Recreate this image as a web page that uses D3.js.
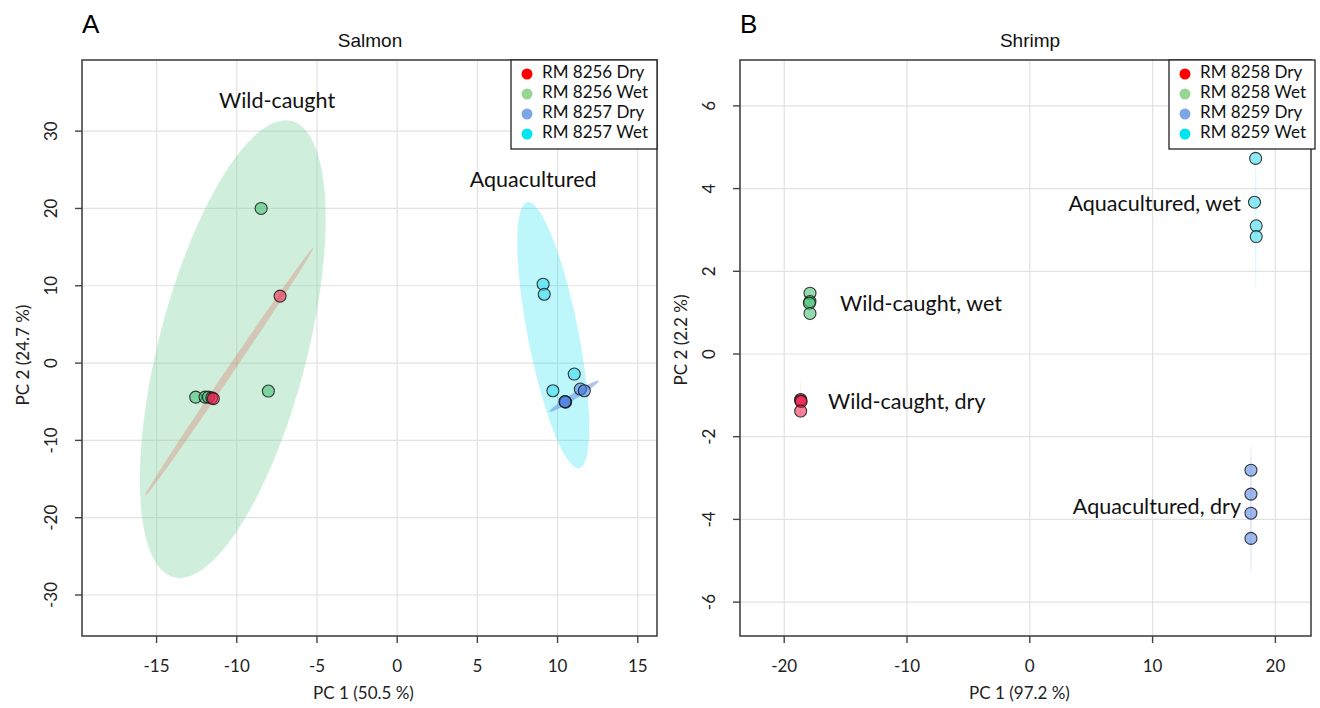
<!DOCTYPE html>
<html>
<head>
<meta charset="utf-8">
<script src="https://cdn.jsdelivr.net/npm/d3@7.9.0/dist/d3.min.js"></script>
<style>
  body { margin: 0; background: #fff; }
  svg { display: block; font-family: Lato, "Open Sans", sans-serif; }
</style>
</head>
<body>
<svg id="chart" width="1320" height="708"></svg>
<script>
// ---- data ----
const salmonGroups = ["RM 8256 Dry", "RM 8256 Wet", "RM 8257 Dry", "RM 8257 Wet"];
const shrimpGroups = ["RM 8258 Dry", "RM 8258 Wet", "RM 8259 Dry", "RM 8259 Wet"];

const salmonXTicks = [-15, -10, -5, 0, 5, 10, 15];
const salmonYTicks = [-30, -20, -10, 0, 10, 20, 30];
const shrimpXTicks = [-20, -10, 0, 10, 20];
const shrimpYTicks = [-6, -4, -2, 0, 2, 4, 6];

// g = group index, pc1 / pc2 scores
const salmonPoints = [
  { g: 1, pc1: -8.48, pc2: 20.0 }, { g: 1, pc1: -12.56, pc2: -4.4 }, { g: 1, pc1: -11.98, pc2: -4.4 },
  { g: 1, pc1: -11.77, pc2: -4.4 }, { g: 1, pc1: -8.03, pc2: -3.62 },
  { g: 3, pc1: 9.1, pc2: 10.2 }, { g: 3, pc1: 9.17, pc2: 8.9 }, { g: 3, pc1: 11.04, pc2: -1.42 },
  { g: 3, pc1: 9.71, pc2: -3.58 },
  { g: 0, pc1: -7.3, pc2: 8.66 }, { g: 0, pc1: -11.56, pc2: -4.5 }, { g: 0, pc1: -11.46, pc2: -4.6 },
  { g: 2, pc1: 10.48, pc2: -5.0 }, { g: 2, pc1: 10.5, pc2: -5.05 }, { g: 2, pc1: 10.46, pc2: -4.98 },
  { g: 2, pc1: 11.42, pc2: -3.36 }, { g: 2, pc1: 11.67, pc2: -3.58 }
];
const shrimpPoints = [
  { g: 1, pc1: -17.9, pc2: 1.47 }, { g: 1, pc1: -17.9, pc2: 1.27 }, { g: 1, pc1: -17.95, pc2: 1.23 },
  { g: 1, pc1: -17.9, pc2: 0.98 },
  { g: 3, pc1: 18.39, pc2: 4.73 }, { g: 3, pc1: 18.3, pc2: 3.67 }, { g: 3, pc1: 18.44, pc2: 3.10 },
  { g: 3, pc1: 18.44, pc2: 2.84 },
  { g: 0, pc1: -18.66, pc2: -1.10 }, { g: 0, pc1: -18.66, pc2: -1.13 }, { g: 0, pc1: -18.62, pc2: -1.15 },
  { g: 0, pc1: -18.66, pc2: -1.38 },
  { g: 2, pc1: 18.01, pc2: -2.81 }, { g: 2, pc1: 18.01, pc2: -3.39 }, { g: 2, pc1: 18.01, pc2: -3.85 },
  { g: 2, pc1: 18.01, pc2: -4.46 }
];

// confidence ellipses: centre and two half-axis vectors, in data units
const salmonEllipses = [
  { g: 1, cx: -10.25, cy: 1.8, ax: 3.68, ay: 29.5, bx: 4.47, by: -2.41 },
  { g: 3, cx: 9.73, cy: 3.62, ax: -1.62, ay: 17.2, bx: 1.55, by: 0.63 },
  { g: 0, cx: -10.48, cy: -1.16, ax: 5.24, ay: 16.03, bx: 0.18, by: -0.25 },
  { g: 2, cx: 11.03, cy: -4.29, ax: 1.53, ay: 2.0, bx: 0.1, by: -0.33 }
];
const shrimpEllipses = [
  { g: 1, cx: -17.92, cy: 1.23, ax: 0, ay: 0.5, bx: 0.05, by: 0 },
  { g: 3, cx: 18.4, cy: 3.24, ax: 0, ay: 1.69, bx: 0.06, by: 0 },
  { g: 0, cx: -18.66, cy: -1.15, ax: 0, ay: 0.5, bx: 0.04, by: 0 },
  { g: 2, cx: 18.01, cy: -3.77, ax: 0, ay: 1.57, bx: 0.05, by: 0 }
];

const salmonLabels = [
  { text: "Wild-caught", pc1: -7.49, pc2: 33.75, anchor: "middle" },
  { text: "Aquacultured", pc1: 8.48, pc2: 23.5, anchor: "middle" }
];
const shrimpLabels = [
  { text: "Aquacultured, wet", pc1: 17.2, pc2: 3.58, anchor: "end" },
  { text: "Wild-caught, wet", pc1: -15.45, pc2: 1.16, anchor: "start" },
  { text: "Wild-caught, dry", pc1: -16.43, pc2: -1.21, anchor: "start" },
  { text: "Aquacultured, dry", pc1: 17.2, pc2: -3.73, anchor: "end" }
];

// ---- styles ----
const legendColors = ["#ff0000", "#99d594", "#7ea6e6", "#00e5f0"];
const pointColors = ["#ee1c4a", "#3cbf6e", "#4f7fe0", "#2fd8ec"];
const ellipseColors = ["#e83a2a", "#82d2a0", "#5f86e6", "#00e0f0"];
const ellipseOpacity = [0.22, 0.38, 0.5, 0.26];

const svg = d3.select("#chart");

function drawPanel(cfg) {
  const x = d3.scaleLinear().domain(cfg.xDomain).range([cfg.left, cfg.right]);
  const y = d3.scaleLinear().domain(cfg.yDomain).range([cfg.bottom, cfg.top]);
  const g = svg.append("g");

  // grid
  g.selectAll(".gx").data(cfg.xTicks).join("line")
    .attr("x1", d => x(d)).attr("x2", d => x(d))
    .attr("y1", cfg.top).attr("y2", cfg.bottom)
    .attr("stroke", "#e2e2e2").attr("stroke-width", 1.2);
  g.selectAll(".gy").data(cfg.yTicks).join("line")
    .attr("x1", cfg.left).attr("x2", cfg.right)
    .attr("y1", d => y(d)).attr("y2", d => y(d))
    .attr("stroke", "#e2e2e2").attr("stroke-width", 1.2);

  // ellipses (wet under dry)
  const ell = d3.line().x(d => x(d[0])).y(d => y(d[1])).curve(d3.curveLinearClosed);
  const order = [1, 3, 0, 2];
  order.forEach(gi => {
    cfg.ellipses.filter(e => e.g === gi).forEach(e => {
      const pts = d3.range(0, 360, 3).map(a => {
        const t = a * Math.PI / 180;
        return [e.cx + e.ax * Math.cos(t) + e.bx * Math.sin(t),
                e.cy + e.ay * Math.cos(t) + e.by * Math.sin(t)];
      });
      g.append("path").attr("d", ell(pts))
        .attr("fill", ellipseColors[gi]).attr("fill-opacity", ellipseOpacity[gi] * cfg.ellFade);
    });
  });

  // points
  order.forEach(gi => {
    g.selectAll(null).data(cfg.points.filter(p => p.g === gi)).join("circle")
      .attr("cx", d => x(d.pc1)).attr("cy", d => y(d.pc2)).attr("r", 6)
      .attr("fill", pointColors[gi]).attr("fill-opacity", 0.55)
      .attr("stroke", "#1a1a1a").attr("stroke-opacity", 0.85).attr("stroke-width", 1.1);
  });

  // frame
  g.append("rect").attr("x", cfg.left).attr("y", cfg.top)
    .attr("width", cfg.right - cfg.left).attr("height", cfg.bottom - cfg.top)
    .attr("fill", "none").attr("stroke", "#444").attr("stroke-width", 1.6);

  // ticks
  g.selectAll(".tx").data(cfg.xTicks).join("line")
    .attr("x1", d => x(d)).attr("x2", d => x(d))
    .attr("y1", cfg.bottom).attr("y2", cfg.bottom + 7)
    .attr("stroke", "#444").attr("stroke-width", 1.4);
  g.selectAll(".ty").data(cfg.yTicks).join("line")
    .attr("x1", cfg.left - 7).attr("x2", cfg.left)
    .attr("y1", d => y(d)).attr("y2", d => y(d))
    .attr("stroke", "#444").attr("stroke-width", 1.4);

  g.selectAll(".lx").data(cfg.xTicks).join("text")
    .attr("x", d => x(d)).attr("y", cfg.bottom + 36)
    .attr("text-anchor", "middle").attr("font-size", 17).attr("fill", "#222")
    .text(d => String(d));
  g.selectAll(".ly").data(cfg.yTicks).join("text")
    .attr("transform", d => `translate(${cfg.left - 25},${y(d)}) rotate(-90)`)
    .attr("text-anchor", "middle").attr("font-size", 17).attr("fill", "#222")
    .text(d => String(d));

  // axis titles
  g.append("text").attr("x", (cfg.left + cfg.right) / 2 - 6).attr("y", cfg.bottom + 63)
    .attr("text-anchor", "middle").attr("font-size", 17).attr("fill", "#222").text(cfg.xTitle);
  g.append("text")
    .attr("transform", `translate(${cfg.left - 53},${(cfg.top + cfg.bottom) / 2 + cfg.yTitleShift}) rotate(-90)`)
    .attr("text-anchor", "middle").attr("font-size", 17).attr("fill", "#222").text(cfg.yTitle);

  // title and panel letter
  g.append("text").attr("x", cfg.titleX).attr("y", 47)
    .attr("text-anchor", "middle").attr("font-family", "Liberation Sans, Arial, sans-serif")
    .attr("font-size", 19).attr("fill", "#111").text(cfg.title);
  g.append("text").attr("x", cfg.left).attr("y", 33)
    .attr("font-family", "Liberation Sans, Arial, sans-serif")
    .attr("font-size", 26).attr("fill", "#000").text(cfg.letter);

  // annotations
  g.selectAll(".ann").data(cfg.labels).join("text")
    .attr("x", d => x(d.pc1)).attr("y", d => y(d.pc2))
    .attr("text-anchor", d => d.anchor).attr("dominant-baseline", "middle")
    .attr("font-size", 21.5).attr("fill", "#111").text(d => d.text);

  // legend
  const lg = g.append("g").attr("transform", `translate(${cfg.legendX},${cfg.top})`);
  lg.append("rect").attr("width", 146).attr("height", 89)
    .attr("fill", "#fff").attr("stroke", "#222").attr("stroke-width", 1.3);
  cfg.groups.forEach((name, i) => {
    lg.append("circle").attr("cx", 16).attr("cy", 14 + i * 20).attr("r", 5.5)
      .attr("fill", legendColors[i]);
    lg.append("text").attr("x", 31).attr("y", 14 + i * 20).attr("dominant-baseline", "middle")
      .attr("font-size", 17).attr("fill", "#111").text(name);
  });
}

drawPanel({
  left: 82, right: 657, top: 60, bottom: 636,
  xDomain: [-19.65, 16.2], yDomain: [-35.3, 39.2],
  xTicks: salmonXTicks, yTicks: salmonYTicks,
  points: salmonPoints, ellipses: salmonEllipses, labels: salmonLabels, groups: salmonGroups,
  xTitle: "PC 1 (50.5 %)", yTitle: "PC 2 (24.7 %)", yTitleShift: 7, ellFade: 1,
  title: "Salmon", titleX: 370, letter: "A", legendX: 511
});
drawPanel({
  left: 740, right: 1311, top: 60, bottom: 636,
  xDomain: [-23.6, 22.9], yDomain: [-6.82, 7.11],
  xTicks: shrimpXTicks, yTicks: shrimpYTicks,
  points: shrimpPoints, ellipses: shrimpEllipses, labels: shrimpLabels, groups: shrimpGroups,
  xTitle: "PC 1 (97.2 %)", yTitle: "PC 2 (2.2 %)", yTitleShift: -8, ellFade: 0.6,
  title: "Shrimp", titleX: 1030, letter: "B", legendX: 1169
});
</script>
</body>
</html>
